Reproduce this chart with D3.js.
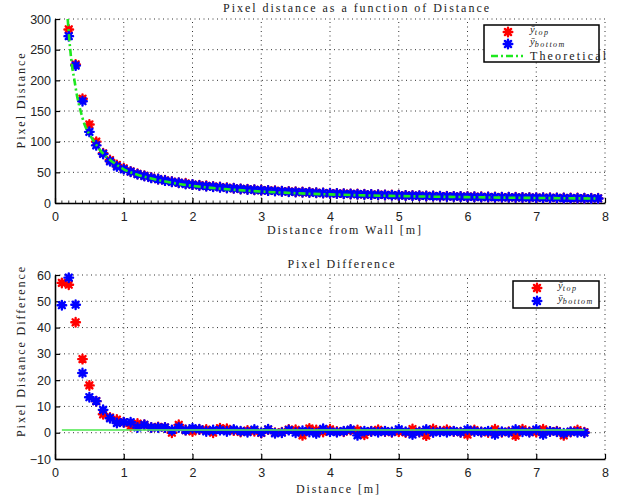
<!DOCTYPE html>
<html>
<head>
<meta charset="utf-8">
<script src="https://cdnjs.cloudflare.com/ajax/libs/d3/7.8.5/d3.min.js"></script>
<style>
body { margin: 0; background: #fff; }
text { fill: #222; }
</style>
</head>
<body>
<svg id="chart" width="627" height="500"></svg>
<script>
// top plot: mean pixel distance vs distance
var distTop = [0.2,0.3,0.4,0.5,0.6,0.7,0.8,0.9,1.0,1.1,1.2,1.3,1.4,1.5,1.6,1.7,1.8,1.9,2.0,2.1,2.2,2.3,2.4,2.5,2.6,2.7,2.8,2.9,3.0,3.1,3.2,3.3,3.4,3.5,3.6,3.7,3.8,3.9,4.0,4.1,4.2,4.3,4.4,4.5,4.6,4.7,4.8,4.9,5.0,5.1,5.2,5.3,5.4,5.5,5.6,5.7,5.8,5.9,6.0,6.1,6.2,6.3,6.4,6.5,6.6,6.7,6.8,6.9,7.0,7.1,7.2,7.3,7.4,7.5,7.6,7.7,7.8,7.9];
var yTop = [283,226,170,128,100,81,70,62,56.5,51.5,47.5,44.5,41.5,39,37,35,33,32,30,29,28,27,26,25,24,23,22.5,21.5,21,20.5,20,19.2,18.8,18.2,17.8,17.5,16.8,16.2,16,15.5,15.2,14.8,14.5,14.2,13.8,13.6,13.2,13,12.6,12.4,12.2,11.8,11.6,11.5,11.2,11,10.8,10.5,10.4,10.2,10,9.8,9.6,9.5,9.3,9.2,9,8.9,8.7,8.6,8.4,8.3,8.2,8,8,7.8,7.7,7.6];
var yBottom = [272,224,166,116,94,80,68,59.5,55,51,47,44,41,39,36.5,34.5,33,31,30,28.5,27.5,26.5,25.5,24.5,24,23,22.2,21.5,20.8,20.2,19.6,19,18.4,18,17.6,17.2,16.6,16.2,15.8,15.4,15,14.7,14.4,14,13.7,13.4,13.1,12.8,12.5,12.2,12,11.8,11.5,11.3,11,10.8,10.6,10.4,10.2,10,9.8,9.7,9.5,9.3,9.2,9,8.9,8.7,8.6,8.5,8.3,8.2,8,7.9,7.8,7.7,7.5,7.4];
var theoX = [0.185,0.2,0.22,0.25,0.28,0.32,0.37,0.43,0.5,0.57,0.65,0.75,0.85,1.0,1.2,1.4,1.7,2.0,2.5,3.0,3.5,4.0,5.0,6.0,7.0,7.9];
var theoY = [300,278,252,222,202,175,151,128,112,100,87,75,66,55,46,40,33,28,22.5,18.7,16,14,11.3,9.5,8.2,7.3];

// bottom plot: pixel difference
var distDiff = [0.1,0.2,0.3,0.4,0.5,0.6,0.7,0.8,0.9,1.0,1.1,1.2,1.3,1.4,1.5,1.6,1.7,1.8,1.9,2.0,2.1,2.2,2.3,2.4,2.5,2.6,2.7,2.8,2.9,3.0,3.1,3.2,3.3,3.4,3.5,3.6,3.7,3.8,3.9,4.0,4.1,4.2,4.3,4.4,4.5,4.6,4.7,4.8,4.9,5.0,5.1,5.2,5.3,5.4,5.5,5.6,5.7,5.8,5.9,6.0,6.1,6.2,6.3,6.4,6.5,6.6,6.7,6.8,6.9,7.0,7.1,7.2,7.3,7.4,7.5,7.6,7.7];
var diffTop = [57,56.3,42,28,18,12,7,5.8,5,4,2.5,3.5,3,2,2.2,2,0,3,1,0.5,1.2,1.2,0,1.7,1.5,0.8,0.3,0.8,0.6,-0.1,1.2,0,0.2,1.2,1.1,-1,1.6,1,0.3,1.3,0.5,0.4,1,1,-0.8,0.6,1.1,0.5,0.2,0.4,0.1,1.4,0.3,-1.1,1.4,0.6,1.1,0.5,0.2,-0.7,1,0.3,0.1,1.3,0.2,0.4,-1.1,1.3,0.4,0.2,1.3,0.5,0.6,-1,0.3,1,0.2];
var diffBottom = [48.5,59,48.7,22.7,13.5,12,8.7,5.5,3.7,4,4,2,3,2,2,2,1,2,1,1.7,1.3,0.5,1,1,0.5,1.2,0.6,0.2,1.2,0,1.3,-0.2,0,1,0,0.7,0.3,-0.3,1.5,0.4,0.2,0.6,1.2,-1,0.6,0.5,0.2,0.6,0.3,1.3,0.4,-0.7,0.3,1.2,0.1,0.4,0.2,0.6,0.2,1.2,0.5,0.3,0.6,-0.7,0.4,0.2,1.2,0.4,0.2,1.2,-0.7,0.5,0.4,-0.2,0.4,0.2,0];
var diffTheoX = [0.1,7.7];
var diffTheoY = [1,1];

var xTicks = [0,1,2,3,4,5,6,7,8];
var yTicksTop = [0,50,100,150,200,250,300];
var yTicksBottom = [-10,0,10,20,30,40,50,60];

var svg = d3.select("#chart");
svg.append("rect").attr("width",627).attr("height",500).attr("fill","#fff");

function star(r){
    var d = r*0.707;
    return "M"+(-r)+",0L"+r+",0M0,"+(-r)+"L0,"+r+
        "M"+(-d)+","+(-d)+"L"+d+","+d+"M"+(-d)+","+d+"L"+d+","+(-d);
}

// one '*' marker: spokes plus a filled core so it reads as a blob
function marker(g, color){
    g.append("circle").attr("r",2.6).attr("fill",color);
    g.append("path").attr("d", star(4.3))
        .attr("stroke", color).attr("stroke-width",2.4).attr("stroke-linecap","round")
        .attr("fill","none");
}

function drawPanel(g, x, y, yTicks, minor){
    var x0 = x.range()[0], x1 = x.range()[1];
    var yb = y.range()[0], yt = y.range()[1];
    // dotted grid
    g.selectAll(".gx").data(xTicks.slice(1)).enter().append("line")
        .attr("x1", function(d){return x(d);}).attr("x2", function(d){return x(d);})
        .attr("y1", yb).attr("y2", yt)
        .attr("stroke","#333").attr("stroke-width",1).attr("stroke-dasharray","1,3.5");
    g.selectAll(".gy").data(yTicks.slice(1)).enter().append("line")
        .attr("x1", x0).attr("x2", x1)
        .attr("y1", function(d){return y(d);}).attr("y2", function(d){return y(d);})
        .attr("stroke","#333").attr("stroke-width",1).attr("stroke-dasharray","1,3.5");

    var ax = g.append("g").attr("transform","translate(0,"+yb+")")
        .call(d3.axisBottom(x).tickValues(xTicks).tickSize(-5).tickPadding(9).tickSizeOuter(0));
    var ay = g.append("g").attr("transform","translate("+x0+",0)")
        .call(d3.axisLeft(y).tickValues(yTicks).tickSize(-5).tickPadding(4).tickSizeOuter(0));
    [ax, ay].forEach(function(a){
        a.select(".domain").attr("stroke","#000").attr("stroke-width",1.6);
        a.selectAll(".tick line").attr("stroke","#000").attr("stroke-width",1.2);
        a.selectAll(".tick text").attr("font-family","'Liberation Sans', Arial, sans-serif")
            .attr("font-size",12.5).attr("fill","#111");
    });
    if(minor){
        g.selectAll(".mt").data(d3.range(1,80)).enter().append("line")
            .attr("x1", function(d){return x(d/10);}).attr("x2", function(d){return x(d/10);})
            .attr("y1", yb).attr("y2", yb-2.5)
            .attr("stroke","#000").attr("stroke-width",0.8);
    }
}

function drawStars(g, xs, ys, x, y, color){
    g.selectAll(null).data(ys).enter().append("g")
        .attr("transform", function(d,i){ return "translate("+x(xs[i])+","+y(d)+")"; })
        .each(function(){ marker(d3.select(this), color); });
}

function serifText(g, str, x, y, len, rotate){
    var t = g.append("text")
        .attr("font-family","'Liberation Serif', 'DejaVu Serif', serif")
        .attr("font-size",12)
        .attr("text-anchor","middle")
        .attr("textLength", len).attr("lengthAdjust","spacing")
        .text(str);
    if(rotate){ t.attr("transform","translate("+x+","+y+") rotate(-90)"); }
    else { t.attr("x",x).attr("y",y); }
    return t;
}

function yLabel(t, sub){
    t.append("tspan").attr("font-style","italic").text("ȳ");
    t.append("tspan").attr("font-style","italic").attr("font-size",8)
        .attr("letter-spacing",1.5).attr("dy",2).text(sub);
}

function legendText(g, x, y){
    return g.append("text").attr("x",x).attr("y",y)
        .attr("font-family","'Liberation Serif', serif").attr("font-size",10.5);
}

// ---------- top panel ----------
var xA = d3.scaleLinear().domain([0,8]).range([55,605]);
var yA = d3.scaleLinear().domain([0,300]).range([203,19]);
var gA = svg.append("g");
drawPanel(gA, xA, yA, yTicksTop, true);
drawStars(gA, distTop, yTop, xA, yA, "#ff0000");
drawStars(gA, distTop, yBottom, xA, yA, "#0000ff");
var theoLine = d3.line().curve(d3.curveMonotoneX)
    .x(function(d,i){return xA(theoX[i]);}).y(function(d){return yA(d);});
gA.append("path").datum(theoY).attr("d", theoLine)
    .attr("fill","none").attr("stroke","#1ee81e").attr("stroke-width",2.6)
    .attr("stroke-dasharray","7,3,2,3");

serifText(svg, "Pixel distance as a function of Distance", 356, 12, 266);
serifText(svg, "Distance from Wall [m]", 344, 234, 154);
serifText(svg, "Pixel Distance", 25, 101, 95, true);

// legend top
var legA = svg.append("g");
legA.append("rect").attr("x",484).attr("y",25).attr("width",115).attr("height",37)
    .attr("fill","#fff").attr("stroke","#000").attr("stroke-width",1.5);
marker(legA.append("g").attr("transform","translate(508,32)"), "#ff0000");
marker(legA.append("g").attr("transform","translate(508,44)"), "#0000ff");
legA.append("line").attr("x1",491).attr("x2",523).attr("y1",56).attr("y2",56)
    .attr("stroke","#1ee81e").attr("stroke-width",2.6).attr("stroke-dasharray","7,3,2,3");
yLabel(legendText(legA, 530, 33), "top");
yLabel(legendText(legA, 530, 45), "bottom");
legA.append("text").attr("x",530).attr("y",60)
    .attr("font-family","'Liberation Serif', serif").attr("font-size",12)
    .attr("textLength",76).attr("lengthAdjust","spacing").text("Theoretical");

// ---------- bottom panel ----------
var xB = d3.scaleLinear().domain([0,8]).range([55,605]);
var yB = d3.scaleLinear().domain([-10,60]).range([459,275]);
var gB = svg.append("g");
drawPanel(gB, xB, yB, yTicksBottom, false);
drawStars(gB, distDiff, diffTop, xB, yB, "#ff0000");
drawStars(gB, distDiff, diffBottom, xB, yB, "#0000ff");
var diffLine = d3.line()
    .x(function(d,i){return xB(diffTheoX[i]);}).y(function(d){return yB(d);});
gB.append("path").datum(diffTheoY).attr("d", diffLine)
    .attr("fill","none").attr("stroke","#55e855").attr("stroke-width",2)
    .attr("stroke-opacity",0.8);

serifText(svg, "Pixel Difference", 341, 268, 107);
serifText(svg, "Distance [m]", 337.5, 493, 83);
serifText(svg, "Pixel Distance Difference", 25, 352, 170, true);

var legB = svg.append("g");
legB.append("rect").attr("x",513).attr("y",281).attr("width",86).attr("height",27)
    .attr("fill","#fff").attr("stroke","#000").attr("stroke-width",1.5);
marker(legB.append("g").attr("transform","translate(537,288)"), "#ff0000");
marker(legB.append("g").attr("transform","translate(537,301)"), "#0000ff");
yLabel(legendText(legB, 558, 289), "top");
yLabel(legendText(legB, 558, 302), "bottom");
</script>
</body>
</html>
